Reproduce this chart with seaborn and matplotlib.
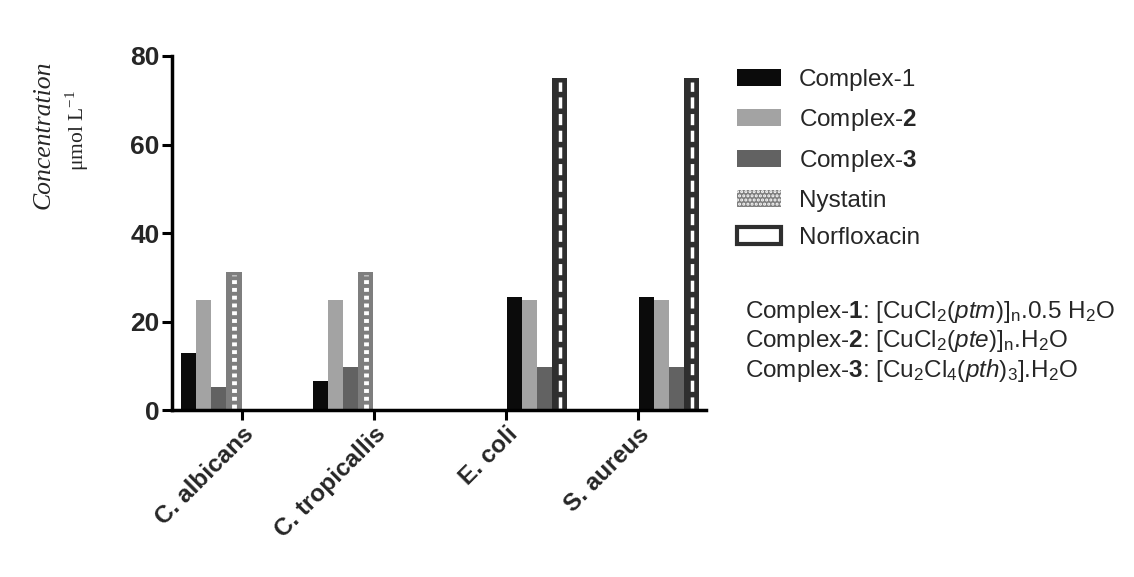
import numpy as np
import pandas as pd
import matplotlib
matplotlib.use("Agg")
import matplotlib.pyplot as plt
from matplotlib.patches import Patch
import seaborn as sns

# ---------------- data ----------------
organisms = ["C. albicans", "C. tropicallis", "E. coli", "S. aureus"]
is_fungus = [True, True, False, False]
complex1 = [13.0, 6.5, 25.5, 25.5]
complex2 = [25.0, 25.0, 25.0, 25.0]
complex3 = [5.2, 9.8, 9.8, 9.8]
nystatin = [31.25, 31.25, None, None]
norfloxacin = [None, None, 75.0, 75.0]
yticks = [0, 20, 40, 60, 80]
formulas = [
    r"Complex-$\mathbf{1}$: [CuCl$_2$($\mathit{ptm}$)]$_\mathrm{n}$.0.5 H$_2$O",
    r"Complex-$\mathbf{2}$: [CuCl$_2$($\mathit{pte}$)]$_\mathrm{n}$.H$_2$O",
    r"Complex-$\mathbf{3}$: [Cu$_2$Cl$_4$($\mathit{pth}$)$_3$].H$_2$O",
]
legend_labels = [r"Complex-1", r"Complex-$\mathbf{2}$", r"Complex-$\mathbf{3}$",
                 "Nystatin", "Norfloxacin"]

roles = ["Complex-1", "Complex-2", "Complex-3", "Control"]
colors = {"Complex-1": "#0b0b0b", "Complex-2": "#a3a3a3",
          "Complex-3": "#626262", "Control": "#7e7e7e"}
nys_color = "#7e7e7e"
nor_color = "#2f2f2f"

# ---------------- theme ----------------
sns.set_theme(style="ticks")
plt.rcParams["font.family"] = ["Liberation Sans", "DejaVu Sans"]
plt.rcParams["mathtext.fontset"] = "custom"
plt.rcParams["mathtext.rm"] = "Liberation Sans"
plt.rcParams["mathtext.it"] = "Liberation Sans:italic"
plt.rcParams["mathtext.bf"] = "Liberation Sans:bold"
plt.rcParams["hatch.linewidth"] = 1.5

shift = 0.235
positions = [i + (-shift if f else shift) for i, f in enumerate(is_fungus)]
rows = []
for i, org in enumerate(organisms):
    ctrl = nystatin[i] if nystatin[i] is not None else norfloxacin[i]
    for role, val in zip(roles, [complex1[i], complex2[i], complex3[i], ctrl]):
        rows.append({"organism": org, "pos": positions[i], "role": role, "value": val})
df = pd.DataFrame(rows)

fig = plt.figure(figsize=(11.34, 5.77), dpi=100)
fig.patch.set_facecolor("white")
ax = fig.add_axes([0.152, 0.289, 0.471, 0.614])

sns.barplot(data=df, x="pos", y="value", hue="role", hue_order=roles,
            palette=colors, native_scale=True, width=0.46, dodge=True,
            errorbar=None, legend=False, ax=ax, saturation=1, linewidth=0)

# style control bars
pos_arr = np.array(positions)
for bar in ax.containers[3]:
    cx = bar.get_x() + bar.get_width() / 2
    h = bar.get_height()
    idx = int(np.argmin(np.abs(pos_arr - cx)))
    if nystatin[idx] is not None:
        bar.set_facecolor(nys_color)
        ax.plot([cx, cx], [0.4, h - 0.6], color="white", lw=3.5,
                ls=(0, (0.8, 0.8)), solid_capstyle="butt", zorder=5)
    else:
        bar.set_facecolor(nor_color)
        ax.plot([cx, cx], [0.4, h - 0.8], color="white", lw=2.5,
                ls=(0, (3.2, 1.6)), solid_capstyle="butt", zorder=5)

ax.set_xlim(-0.53, 3.52)
ax.set_ylim(0, 80)
ax.set_xticks(range(len(organisms)))
ax.set_xticklabels(organisms, rotation=45, ha="right", rotation_mode="anchor",
                   fontweight="bold", fontsize=17.5)
ax.set_yticks(yticks)
ax.set_yticklabels([str(v) for v in yticks], fontweight="bold", fontsize=19)
ax.set_xlabel("")
ax.set_ylabel("")
sns.despine(ax=ax)
for s in ["left", "bottom"]:
    ax.spines[s].set_linewidth(2.5)
    ax.spines[s].set_color("black")
ax.tick_params(axis="both", length=7, width=2.2, color="black", pad=2)
ax.set_facecolor("white")

# y label (two lines, serif)
fig.text(44 / 1134, 1 - 135 / 577, "Concentration", rotation=90,
         family="Liberation Serif", style="italic", fontsize=18.5,
         ha="center", va="center")
fig.text(77 / 1134, 1 - 131 / 577, r"μmol L$^{\mathregular{-1}}$", rotation=90,
         family="Liberation Serif", fontsize=15.5, ha="center", va="center")

# legend
handles = [
    Patch(facecolor=colors["Complex-1"], edgecolor="none"),
    Patch(facecolor=colors["Complex-2"], edgecolor="none"),
    Patch(facecolor=colors["Complex-3"], edgecolor="none"),
    Patch(facecolor=nys_color, edgecolor="white", hatch="....", linewidth=0),
    Patch(facecolor="white", edgecolor=nor_color, linewidth=3),
]
fig.legend(handles, legend_labels, loc="upper left",
           bbox_to_anchor=(737 / 1134, 1 - 69 / 577),
           frameon=False, fontsize=17.5, handlelength=1.8, handleheight=0.7,
           handletextpad=0.75, labelspacing=0.64, borderaxespad=0, borderpad=0)

# formulas
for k, txt in enumerate(formulas):
    fig.text(745 / 1134, 1 - (312 + 29.5 * k) / 577, txt, fontsize=17.5,
             ha="left", va="center")

fig.savefig("out.png", dpi=100, facecolor="white")
